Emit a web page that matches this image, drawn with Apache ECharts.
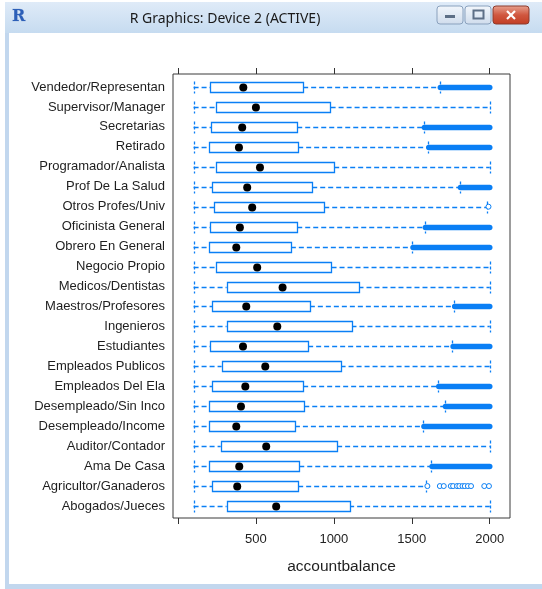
<!DOCTYPE html>
<html>
<head>
<meta charset="utf-8">
<title>accountbalance by occupation</title>
<script src="https://cdn.jsdelivr.net/npm/echarts@6/dist/echarts.min.js"></script>
<style>
  html, body { margin: 0; padding: 0; background: #ffffff; }
  #chart { width: 542px; height: 589px; }
</style>
</head>
<body>
<div id="chart"></div>
<script>
// Occupations, bottom row first (y position 1 .. 22)
const categories = [
  'Abogados/Jueces', 'Agricultor/Ganaderos', 'Ama De Casa', 'Auditor/Contador',
  'Desempleado/Income', 'Desempleado/Sin Inco', 'Empleados Del Ela', 'Empleados Publicos',
  'Estudiantes', 'Ingenieros', 'Maestros/Profesores', 'Medicos/Dentistas',
  'Negocio Propio', 'Obrero En General', 'Oficinista General', 'Otros Profes/Univ',
  'Prof De La Salud', 'Programador/Analista', 'Retirado', 'Secretarias',
  'Supervisor/Manager', 'Vendedor/Representan'
];

// Five-number summaries of account balance per occupation
const whiskerLow  = [100, 100, 100, 100, 100, 100, 100, 100, 100, 100, 100, 100, 100, 100, 100, 100, 100, 100, 100, 100, 100, 100];
const lowerQuart  = [312, 220, 201, 274, 201, 201, 220, 280, 207, 312, 220, 312, 246, 201, 207, 233, 220, 246, 201, 214, 246, 207];
const medians     = [630, 380, 393, 566, 374, 404, 432, 560, 417, 637, 438, 671, 508, 374, 397, 476, 444, 526, 391, 412, 500, 419];
const upperQuart  = [1098, 771, 778, 1021, 750, 810, 803, 1043, 835, 1113, 846, 1158, 985, 724, 765, 938, 861, 1002, 771, 765, 979, 803];
const whiskerHigh = [2000, 1594, 1626, 2000, 1573, 1712, 1669, 2000, 1761, 2000, 1771, 2000, 2000, 1504, 1583, 1985, 1808, 2000, 1605, 1577, 2000, 1679];

// Runs of densely packed outliers: from value up to the cap of the data
const denseOutlierFrom = [null, null, 1630, null, 1578, 1716, 1673, null, 1765, null, 1775, null, null, 1508, 1587, null, 1812, null, 1609, 1581, null, 1683];
const denseOutlierTo = 2000;

// Isolated outliers
const agricultorOutliers = [1600, 1680, 1705, 1750, 1765, 1790, 1805, 1825, 1840, 1860, 1880, 1965, 1995];
const otrosProfesOutliers = [1992];

// Axis ticks
const xTicks = [0, 500, 1000, 1500, 2000];
const xTickLabels = [500, 1000, 1500, 2000];
const yPositions = categories.map((_, i) => i + 1);

const BLUE = '#0a7ff5';

const boxData = categories.map((_, i) => [
  i + 1, whiskerLow[i], lowerQuart[i], medians[i], upperQuart[i], whiskerHigh[i],
  denseOutlierFrom[i] == null ? NaN : denseOutlierFrom[i]
]);

const outlierPoints = []
  .concat(agricultorOutliers.map(v => [v, categories.indexOf('Agricultor/Ganaderos') + 1]))
  .concat(otrosProfesOutliers.map(v => [v, categories.indexOf('Otros Profes/Univ') + 1]));

function renderBox(params, api) {
  const y = api.value(0);
  const lo = api.coord([api.value(1), y]);
  const q1 = api.coord([api.value(2), y]);
  const md = api.coord([api.value(3), y]);
  const q3 = api.coord([api.value(4), y]);
  const hi = api.coord([api.value(5), y]);
  const bandFrom = api.value(6);
  const cy = Math.round(lo[1]) + 0.5;
  const h = 5;
  const dash = { stroke: BLUE, lineWidth: 1.3, lineDash: [5, 3] };
  const capDash = { stroke: BLUE, lineWidth: 1.3, lineDash: [3, 2] };
  const children = [];

  if (!isNaN(bandFrom)) {
    const b0 = api.coord([bandFrom, y]);
    const b1 = api.coord([denseOutlierTo, y]);
    children.push({
      type: 'line',
      shape: { x1: b0[0], y1: cy, x2: b1[0], y2: cy },
      style: { stroke: BLUE, lineWidth: 5.5, lineCap: 'round' }
    });
  }
  children.push(
    { type: 'line', shape: { x1: lo[0], y1: cy, x2: q1[0], y2: cy }, style: dash },
    { type: 'line', shape: { x1: q3[0], y1: cy, x2: hi[0], y2: cy }, style: dash },
    { type: 'line', shape: { x1: Math.round(lo[0]) + 0.5, y1: cy - h - 1, x2: Math.round(lo[0]) + 0.5, y2: cy + h + 1 }, style: capDash },
    { type: 'line', shape: { x1: Math.round(hi[0]) + 0.5, y1: cy - h - 1, x2: Math.round(hi[0]) + 0.5, y2: cy + h + 1 }, style: capDash },
    {
      type: 'rect',
      shape: { x: Math.round(q1[0]) + 0.5, y: cy - h, width: Math.round(q3[0] - q1[0]), height: 2 * h },
      style: { fill: '#ffffff', stroke: BLUE, lineWidth: 1.3 }
    },
    { type: 'circle', shape: { cx: md[0], cy: cy, r: 4 }, style: { fill: '#000000' } }
  );
  return { type: 'group', children: children };
}

// Window chrome around the plot
const chrome = [
  { type: 'rect', shape: { x: 0, y: 0, width: 542, height: 589 }, style: { fill: '#ffffff' }, z: -10 },
  {
    type: 'rect', shape: { x: 5, y: 2, width: 537, height: 31 }, z: -9,
    style: { fill: new echarts.graphic.LinearGradient(0, 0, 0, 1, [
      { offset: 0, color: '#dfebf8' }, { offset: 1, color: '#c6dbf0' }]) }
  },
  { type: 'rect', shape: { x: 5, y: 33, width: 4, height: 556 }, style: { fill: '#c2d7ee' }, z: -9 },
  { type: 'rect', shape: { x: 5, y: 584, width: 537, height: 5 }, style: { fill: '#c2d7ee' }, z: -9 },
  {
    type: 'text', x: 12, y: 9, z: 5,
    style: { text: 'R', font: 'bold 16px "DejaVu Serif"', fill: '#2c5fb8', stroke: '#9fb6dc', lineWidth: 0.5 }
  },
  {
    type: 'text', x: 225, y: 19, z: 5,
    style: { text: 'R Graphics: Device 2 (ACTIVE)', font: '14px "Noto Sans"', fill: '#1a1a1a', align: 'center', verticalAlign: 'middle' }
  },
  {
    type: 'rect', shape: { x: 437, y: 6, width: 26, height: 18, r: 3 }, z: 5,
    style: { stroke: '#8aa1bd', lineWidth: 1, fill: new echarts.graphic.LinearGradient(0, 0, 0, 1, [
      { offset: 0, color: '#f3f7fc' }, { offset: 1, color: '#cfdcec' }]) }
  },
  { type: 'rect', shape: { x: 445, y: 15, width: 10, height: 3 }, style: { fill: '#5d6f86' }, z: 6 },
  {
    type: 'rect', shape: { x: 465, y: 6, width: 26, height: 18, r: 3 }, z: 5,
    style: { stroke: '#8aa1bd', lineWidth: 1, fill: new echarts.graphic.LinearGradient(0, 0, 0, 1, [
      { offset: 0, color: '#f3f7fc' }, { offset: 1, color: '#cfdcec' }]) }
  },
  { type: 'rect', shape: { x: 473.5, y: 10.5, width: 10, height: 8 }, style: { fill: 'none', stroke: '#5d6f86', lineWidth: 2 }, z: 6 },
  {
    type: 'rect', shape: { x: 493, y: 6, width: 36, height: 18, r: 3 }, z: 5,
    style: { stroke: '#8d3a2c', lineWidth: 1, fill: new echarts.graphic.LinearGradient(0, 0, 0, 1, [
      { offset: 0, color: '#e8a492' }, { offset: 0.5, color: '#d0573f' }, { offset: 1, color: '#c23c22' }]) }
  },
  { type: 'line', shape: { x1: 507, y1: 11, x2: 515, y2: 19 }, style: { stroke: '#ffffff', lineWidth: 2.2 }, z: 6 },
  { type: 'line', shape: { x1: 515, y1: 11, x2: 507, y2: 19 }, style: { stroke: '#ffffff', lineWidth: 2.2 }, z: 6 }
];

const chart = echarts.init(document.getElementById('chart'), null, { renderer: 'canvas' });

const xCommon = {
  type: 'value',
  min: -32,
  max: 2130,
  splitLine: { show: false },
  axisLine: { show: false },
  axisTick: { show: true, inside: false, length: 6, customValues: xTicks, lineStyle: { color: '#333333', width: 1 } }
};

chart.setOption({
  animation: false,
  backgroundColor: '#ffffff',
  graphic: chrome,
  grid: {
    left: 173, top: 74, right: 32, bottom: 71,
    show: true, borderColor: '#3a3a3a', borderWidth: 1, backgroundColor: 'transparent'
  },
  xAxis: [
    Object.assign({}, xCommon, {
      position: 'bottom',
      name: 'accountbalance',
      nameLocation: 'middle',
      nameGap: 41,
      nameTextStyle: { fontFamily: 'Liberation Sans', fontSize: 15.5, color: '#1f1f1f' },
      axisLabel: {
        show: true, customValues: xTickLabels, margin: 15,
        fontFamily: 'Liberation Sans', fontSize: 13, color: '#222222',
        formatter: v => String(Math.round(v))
      }
    }),
    Object.assign({}, xCommon, {
      position: 'top',
      axisLabel: { show: false }
    })
  ],
  yAxis: {
    type: 'value',
    min: 0.4,
    max: 22.65,
    splitLine: { show: false },
    axisLine: { show: false },
    axisTick: { show: false },
    axisLabel: {
      show: true,
      customValues: yPositions,
      margin: 8,
      fontFamily: 'Liberation Sans',
      fontSize: 13,
      color: '#1e1e1e',
      formatter: v => categories[Math.round(v) - 1] || ''
    }
  },
  series: [
    {
      type: 'custom',
      xAxisIndex: 0,
      renderItem: renderBox,
      encode: { x: [1, 2, 3, 4, 5], y: 0 },
      data: boxData,
      clip: false,
      z: 2
    },
    {
      type: 'scatter',
      xAxisIndex: 0,
      symbol: 'circle',
      symbolSize: 5,
      itemStyle: { color: '#ffffff', borderColor: BLUE, borderWidth: 1, opacity: 1 },
      data: outlierPoints,
      z: 3
    }
  ]
});
</script>
</body>
</html>
